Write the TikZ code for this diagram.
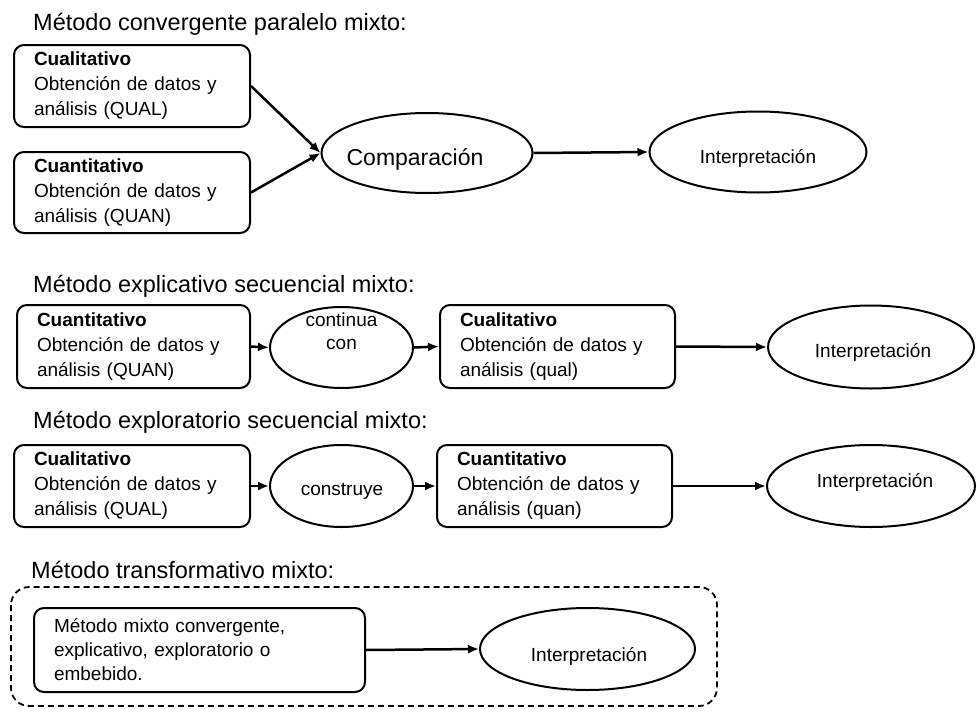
\documentclass[tikz,border=0pt]{standalone}
\usepackage{fontspec}
\setmainfont{Liberation Sans}
\usetikzlibrary{shapes.geometric,arrows.meta}
\begin{document}
\begin{tikzpicture}[x=1pt,y=-1pt,
  title/.style={anchor=base west, inner sep=0pt, font=\fontsize{23.5}{27}\selectfont},
  box/.style={draw, line width=2pt, rounded corners=10pt, inner xsep=20pt, inner ysep=0pt,
    align=left, font=\fontsize{19}{25}\selectfont},
  ell/.style={draw, ellipse, line width=2pt, inner sep=0pt, align=center,
    font=\fontsize{19}{25}\selectfont},
  etext/.style={inner sep=0pt, align=center, font=\fontsize{19}{23}\selectfont},
  arr/.style={line width=2.5pt, -{Latex[length=11pt,width=9pt]}},
  dashbox/.style={draw, line width=1.8pt, dash pattern=on 6pt off 4pt, rounded corners=18pt}
]
\useasboundingbox (0,0) rectangle (977,712);

% Row 1
\node[title] (t1) at (33,30) {Método convergente paralelo mixto:};
\node[box, text width=196pt, minimum height=82pt] (b1) at (132,86)
  {\textbf{Cualitativo}\\Obtención de datos y\\análisis (QUAL)};
\node[box, text width=196pt, minimum height=81pt] (b2) at (132,192.5)
  {\textbf{Cuantitativo}\\Obtención de datos y\\análisis (QUAN)};
\node[ell, minimum width=211pt, minimum height=80pt] (comp) at (427,153) {};
\node[etext, font=\fontsize{23}{25}\selectfont] (compt) at (415,159) {Comparación};
\node[ell, minimum width=217pt, minimum height=81pt] (i1) at (758,152) {};
\node[etext] (i1t) at (758,158) {Interpretación};
\draw[arr] (b1.east) -- (comp.west);
\draw[arr] (b2.east) -- (comp.west);
\draw[arr] (comp.east) -- (i1.west);

% Row 2
\node[title] (t2) at (33,292) {Método explicativo secuencial mixto:};
\node[box, text width=193pt, minimum height=83pt] (b3) at (133.5,346.5)
  {\textbf{Cuantitativo}\\Obtención de datos y\\análisis (QUAN)};
\node[ell, minimum width=143pt, minimum height=81pt] (cont) at (341.5,347.5) {};
\node[etext] (contt) at (341.5,331) {continua\\con};
\node[box, text width=195pt, minimum height=83pt] (b4) at (557.5,346.5)
  {\textbf{Cualitativo}\\Obtención de datos y\\análisis (qual)};
\node[ell, minimum width=206pt, minimum height=83pt] (i2) at (871,347) {};
\node[etext] (i2t) at (873,352) {Interpretación};
\draw[arr] (b3.east) -- (cont.west);
\draw[arr] (cont.east) -- (b4.west);
\draw[arr] (b4.east) -- (i2.west);

% Row 3
\node[title] (t3) at (33,428) {Método exploratorio secuencial mixto:};
\node[box, text width=196pt, minimum height=82pt] (b5) at (132,486)
  {\textbf{Cualitativo}\\Obtención de datos y\\análisis (QUAL)};
\node[ell, minimum width=143pt, minimum height=82pt] (cons) at (341.5,486) {};
\node[etext] (const) at (342,491) {construye};
\node[box, text width=195pt, minimum height=82pt] (b6) at (554.5,486)
  {\textbf{Cuantitativo}\\Obtención de datos y\\análisis (quan)};
\node[ell, minimum width=208pt, minimum height=82pt] (i3) at (871,486) {};
\node[etext] (i3t) at (875,482) {Interpretación};
\draw[arr] (b5.east) -- (cons.west);
\draw[arr] (cons.east) -- (b6.west);
\draw[arr] (b6.east) -- (i3.west);

% Row 4
\node[title] (t4) at (31,578) {Método transformativo mixto:};
\draw[dashbox] (11,587) rectangle (717,706);
\node[box, text width=291pt, minimum height=84pt, font=\fontsize{19}{24}\selectfont] (b7) at (199.5,650)
  {Método mixto convergente,\\explicativo, exploratorio o\\embebido.};
\node[ell, minimum width=215pt, minimum height=82pt] (i4) at (587.5,649) {};
\node[etext] (i4t) at (589,656) {Interpretación};
\draw[arr] (b7.east) -- (i4.west);
\end{tikzpicture}
\end{document}
